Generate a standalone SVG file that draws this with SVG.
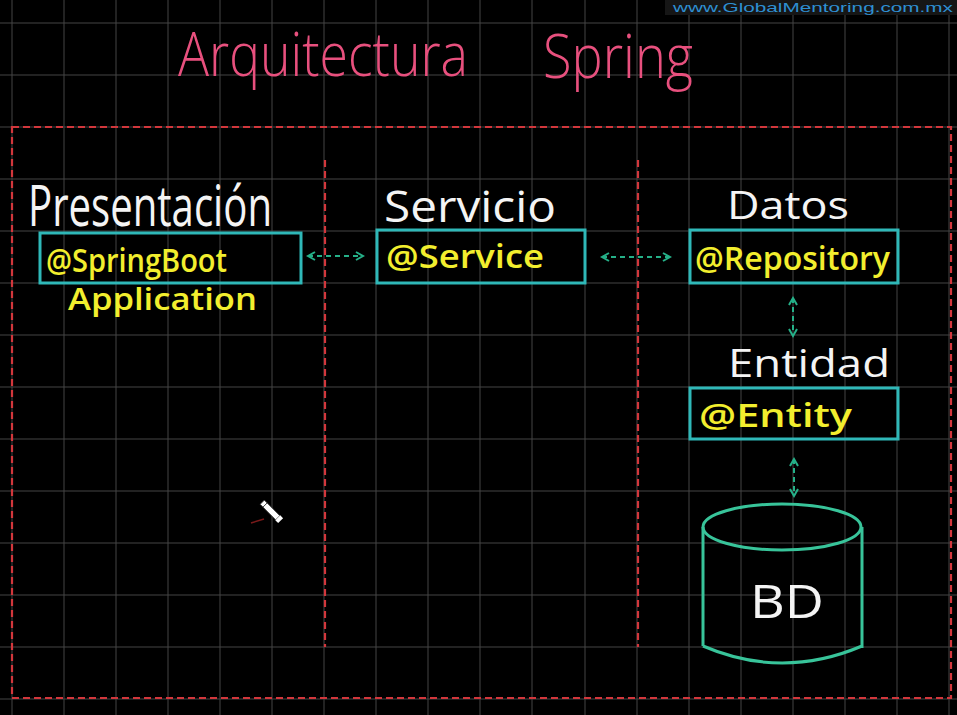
<svg xmlns="http://www.w3.org/2000/svg" width="957" height="715" viewBox="0 0 957 715">
<defs>
<style>
.grid{stroke:#444;stroke-width:1;fill:none}
.frame{stroke:#d2373c;stroke-width:2.2;stroke-dasharray:7 4;fill:none}
.box{stroke:#2fb8b8;stroke-width:3;fill:none}
.conn{stroke:#25b088;stroke-width:2;stroke-dasharray:5 4;fill:none}
.head{font-family:"Open Sans","DejaVu Sans",sans-serif;fill:#f4f4f4;font-weight:400}
.ann{font-family:"Open Sans","DejaVu Sans",sans-serif;fill:#f2ee2e;font-weight:600}
.title{font-family:"Open Sans","DejaVu Sans",sans-serif;fill:#e8507e;font-weight:300}
.db{stroke:#38c49a;stroke-width:3;fill:none}
</style>
<marker id="ah" viewBox="0 0 10 10" refX="8" refY="5" markerWidth="5" markerHeight="5" orient="auto-start-reverse">
<path d="M1,1 L8,5 L1,9" fill="none" stroke="#25b088" stroke-width="2"/>
</marker>
</defs>
<rect width="957" height="715" fill="#000"/>
<g id="grid">
<path class="grid" d="M12,0V715M64,0V715M116,0V715M168,0V715M220,0V715M272,0V715M324,0V715M376,0V715M428,0V715M480,0V715M532,0V715M585,0V715M637,0V715M689,0V715M741,0V715M793,0V715M845,0V715M897,0V715M949,0V715"/>
<path class="grid" d="M0,23H957M0,75H957M0,127H957M0,179H957M0,231H957M0,283H957M0,335H957M0,387H957M0,439H957M0,491H957M0,543H957M0,595H957M0,647H957M0,699H957"/>
</g>
<g id="watermark">
<rect x="665" y="0" width="292" height="15" fill="#161616"/>
<text x="673" y="12" font-family="Liberation Sans, sans-serif" font-size="13" fill="#2e8fd2" textLength="280" lengthAdjust="spacingAndGlyphs">www.GlobalMentoring.com.mx</text>
</g>
<g id="title">
<text class="title" x="178" y="76" font-size="60" textLength="290" lengthAdjust="spacingAndGlyphs">Arquitectura</text>
<text class="title" x="543" y="78" font-size="60" textLength="150" lengthAdjust="spacingAndGlyphs">Spring</text>
</g>
<g id="frame">
<rect class="frame" x="12" y="127" width="939" height="571"/>
<line class="frame" x1="325" y1="160" x2="325" y2="647"/>
<line class="frame" x1="638" y1="160" x2="638" y2="647"/>
</g>
<g id="presentacion">
<text class="head" x="28" y="226" font-size="56" textLength="244" lengthAdjust="spacingAndGlyphs">Presentación</text>
<rect class="box" x="40" y="233" width="261" height="50"/>
<text class="ann" x="46" y="272" font-size="32" textLength="181" lengthAdjust="spacingAndGlyphs">@SpringBoot</text>
<text class="ann" x="68" y="310" font-size="30" textLength="189" lengthAdjust="spacingAndGlyphs">Application</text>
</g>
<g id="servicio">
<text class="head" x="384" y="222" font-size="44" textLength="172" lengthAdjust="spacingAndGlyphs">Servicio</text>
<rect class="box" x="377" y="230" width="208" height="53"/>
<text class="ann" x="386" y="268" font-size="32" textLength="158" lengthAdjust="spacingAndGlyphs">@Service</text>
</g>
<g id="datos">
<text class="head" x="727" y="219" font-size="38" textLength="122" lengthAdjust="spacingAndGlyphs">Datos</text>
<rect class="box" x="690" y="230" width="208" height="53"/>
<text class="ann" x="695" y="270" font-size="33" textLength="195" lengthAdjust="spacingAndGlyphs">@Repository</text>
</g>
<g id="entidad">
<text class="head" x="728" y="377" font-size="38" textLength="162" lengthAdjust="spacingAndGlyphs">Entidad</text>
<rect class="box" x="690" y="388" width="208" height="51"/>
<text class="ann" x="699" y="427" font-size="33" textLength="153" lengthAdjust="spacingAndGlyphs">@Entity</text>
</g>
<g id="bd">
<path class="db" d="M703,527 L703,646 M862,527 L862,648 M703,646 Q782,680 862,646"/>
<ellipse class="db" cx="782" cy="527" rx="79" ry="23"/>
<text class="head" x="787" y="618" font-size="46" text-anchor="middle" textLength="74" lengthAdjust="spacingAndGlyphs">BD</text>
</g>
<g id="connectors">
<line class="conn" x1="308" y1="256" x2="363" y2="256" marker-start="url(#ah)" marker-end="url(#ah)"/>
<line class="conn" x1="602" y1="257" x2="670" y2="257" marker-start="url(#ah)" marker-end="url(#ah)"/>
<line class="conn" x1="793" y1="298" x2="793" y2="336" marker-start="url(#ah)" marker-end="url(#ah)"/>
<line class="conn" x1="794" y1="459" x2="794" y2="496" marker-start="url(#ah)" marker-end="url(#ah)"/>
</g>
<g id="cursor">
<line x1="251" y1="523" x2="264" y2="519" stroke="#7a1a1a" stroke-width="1.5"/>
<g transform="translate(270,510) rotate(45)">
<rect x="-11" y="-3" width="22" height="6" fill="#fff" stroke="#222" stroke-width="0.8"/>
<line x1="-7" y1="-3" x2="-7" y2="3" stroke="#222" stroke-width="0.8"/>
<rect x="11" y="-3.5" width="4" height="7" fill="#fff"/>
</g>
</g>
</svg>
